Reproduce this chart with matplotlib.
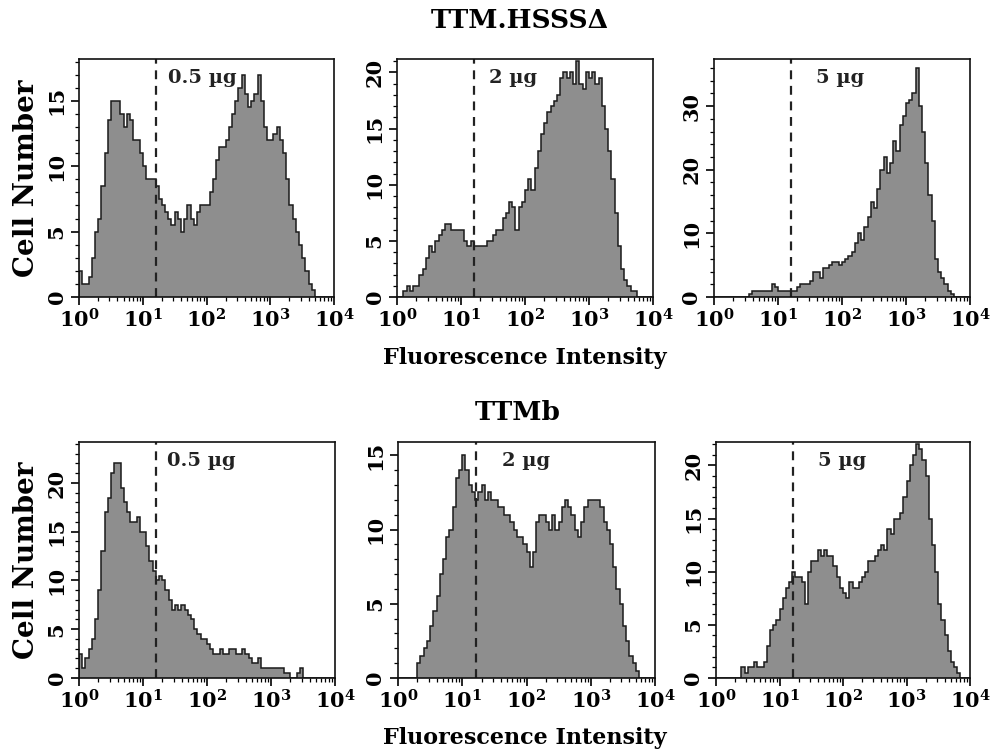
import numpy as np
import matplotlib
matplotlib.use("Agg")
import matplotlib.pyplot as plt
from matplotlib.ticker import MultipleLocator, LogLocator, NullFormatter

plt.rcParams['font.family'] = ['DejaVu Serif']
plt.rcParams['font.weight'] = 'bold'
plt.rcParams['mathtext.fontset'] = 'custom'
plt.rcParams['mathtext.rm'] = 'DejaVu Serif:bold'
plt.rcParams['mathtext.bf'] = 'DejaVu Serif:bold'
plt.rcParams['mathtext.it'] = 'DejaVu Serif:bold'

# histogram bins: 80 channels, 0.05 decade each, 10^0 .. 10^4
n_bins = 80
decades = 4.0

x_tick_values = [1, 10, 100, 1000, 10000]
x_tick_labels = [r'$10^{0}$', r'$10^{1}$', r'$10^{2}$', r'$10^{3}$', r'$10^{4}$']

row_titles = ['TTM.HSSSΔ', 'TTMb']
dose_labels = ['0.5 µg', '2 µg', '5 µg']
gate_position = 16.2

# TTM.HSSSΔ
hsss_05 = [2, 1, 1, 1.5, 3, 5, 6, 8.5, 11, 13.5, 15, 15, 15, 14, 13, 14, 13.5, 12, 12, 11,
           10, 9, 9, 9, 8.5, 7.5, 7, 6.5, 6, 5.5, 6.5, 6, 5, 6, 7, 6, 5.5, 6.5, 7, 7,
           7, 8, 9, 10.5, 11.5, 11.5, 12, 13, 14, 15, 16, 17, 15.5, 14.5, 15, 15.5, 17, 15, 13, 12,
           12, 12.5, 13, 12, 11, 9, 7, 6, 5, 4, 3, 2, 1, 0.5, 0, 0, 0, 0, 0, 0]
hsss_2 = [0, 0, 0.5, 1, 0.5, 1, 1, 2, 2.5, 3.5, 4.5, 4, 5, 5.5, 6, 6.5, 6.5, 6, 6, 6,
          6, 5, 4.5, 5, 4.5, 4.5, 4.5, 4.5, 5, 5, 5.5, 6, 6, 7, 7.5, 8.5, 8, 6, 8, 8.5,
          9.5, 10.5, 9.5, 11.5, 13, 14.5, 15.5, 16.5, 17, 17.5, 18, 19.5, 20, 19.5, 20, 19, 21, 19, 18.5, 20,
          19.5, 20, 19, 19.5, 17, 15, 13, 10.5, 7.5, 4.5, 2.5, 1.5, 1, 0.5, 0.5, 0, 0, 0, 0, 0]
hsss_5 = [0, 0, 0, 0, 0, 0, 0, 0, 0, 0, 0, 0.5, 1, 1, 1, 1, 1, 1, 2, 1.5,
          1, 1, 1, 1, 1, 1, 1.5, 2, 2, 2, 2.5, 4, 4, 3, 4.5, 4.5, 5, 5.5, 5.5, 5,
          5.5, 6, 6.5, 7, 8.5, 10, 9, 11, 12.5, 15, 14, 17, 20, 22, 19.5, 21, 24.5, 23, 27, 28.5,
          30.5, 31, 32, 36, 30, 26, 21, 16, 12, 6, 4, 3, 2, 1, 0.5, 0, 0, 0, 0, 0]

# TTMb
ttmb_05 = [2.5, 1, 2, 3, 4, 6, 9, 13, 17, 18.5, 21, 22, 22, 19.5, 18, 17, 16, 16, 16.5, 15,
           15, 13.5, 12, 11, 10, 10.5, 10, 9, 8, 7, 7.5, 7, 7.5, 7, 6.5, 6, 5, 4.5, 4, 4,
           3.5, 3, 2.5, 2.5, 3, 2.5, 2.5, 3, 3, 2.5, 2.5, 3, 2.5, 2, 1.5, 1.5, 2, 1, 1, 1,
           1, 1, 1, 1, 0.5, 0.5, 0, 0, 0.5, 1, 0, 0, 0, 0, 0, 0, 0, 0, 0, 0]
ttmb_2 = [0, 0, 0, 0, 0, 0, 1, 1.5, 2, 2.5, 3.5, 4.5, 5.5, 7, 8, 9.5, 10, 11.5, 13.5, 14,
          15, 14, 13, 12.5, 12, 12.5, 13, 12, 12.5, 12, 12, 11.5, 11.5, 11, 11, 10.5, 10, 9.5, 9.5, 9,
          8.5, 7.5, 8.5, 10.5, 11, 11, 10.5, 10, 11, 10, 10.5, 11.5, 12, 11.5, 11, 10, 9.5, 10.5, 11.5, 12,
          12, 12, 12, 11.5, 10.5, 10, 9, 7.5, 6, 5, 3.5, 2.5, 1.5, 1, 0.5, 0, 0, 0, 0, 0]
ttmb_5 = [0, 0, 0, 0, 0, 0, 0, 0, 1, 0.5, 1, 1, 1.5, 1, 1, 1.5, 3, 4.5, 5, 5.5,
          6.5, 7.5, 8.5, 9, 10, 9.5, 9.5, 9, 7, 10, 11, 11, 12, 11.5, 12, 11.5, 11.5, 10.5, 9.5, 8.5,
          8, 7.5, 9, 8.5, 8.5, 9, 9.5, 10, 11, 11, 11.5, 12, 12.5, 12, 14, 13.5, 15, 15, 15.5, 17,
          18.5, 20, 21, 22, 21.5, 20.5, 19, 15, 12.5, 10, 7, 5.5, 4, 2.5, 1.5, 1, 0.5, 0, 0, 0]

series = [[hsss_05, hsss_2, hsss_5], [ttmb_05, ttmb_2, ttmb_5]]
y_limits = [[18.2, 21.2, 37.4], [24.2, 15.9, 22.2]]
y_major = [[5, 5, 10], [5, 5, 5]]
y_minor = [[1, 1, 2], [1, 1, 1]]
label_x = [[0.35, 0.36, 0.40], [0.345, 0.405, 0.40]]

edges = 10 ** (np.arange(n_bins + 1) * decades / n_bins)

W, H = 991, 754
fig = plt.figure(figsize=(W / 100, H / 100), dpi=100)

col_left = [[79, 397, 714], [79, 398, 716]]
col_width = [[255, 256, 256], [256, 257, 254]]
row_top = [59, 442]
row_bottom = [297, 678]

fill_color = '#8e8e8e'
line_color = '#1a1a1a'

for r in range(2):
    for c in range(3):
        l = col_left[r][c]
        w = col_width[r][c]
        t = row_top[r]
        b = row_bottom[r]
        ax = fig.add_axes([l / W, 1 - b / H, w / W, (b - t) / H])
        vals = np.asarray(series[r][c], dtype=float)
        ax.stairs(vals, edges, fill=True, color=fill_color, linewidth=0)
        ax.stairs(vals, edges, color=line_color, linewidth=1.1)
        ax.set_xscale('log')
        ax.set_xlim(1, 10000)
        ax.set_ylim(0, y_limits[r][c])
        ax.axvline(gate_position, color='#222222', linestyle=(0, (4, 3)), linewidth=1.6)
        ax.set_xticks(x_tick_values)
        ax.set_xticklabels(x_tick_labels, fontsize=15)
        ax.xaxis.set_minor_locator(LogLocator(base=10, subs=np.arange(2, 10)))
        ax.xaxis.set_minor_formatter(NullFormatter())
        ax.yaxis.set_major_locator(MultipleLocator(y_major[r][c]))
        ax.yaxis.set_minor_locator(MultipleLocator(y_minor[r][c]))
        ax.tick_params(axis='both', which='major', direction='out', length=6, width=1.2, pad=2)
        ax.tick_params(axis='both', which='minor', direction='out', length=3, width=0.9)
        ax.tick_params(axis='y', labelsize=15, pad=3)
        for lab in ax.get_yticklabels():
            lab.set_rotation(90)
            lab.set_va('center')
            lab.set_ha('right')
            lab.set_fontweight('bold')
        for sp in ax.spines.values():
            sp.set_linewidth(1.2)
            sp.set_color('#111111')
        ax.text(label_x[r][c], 0.92, dose_labels[c], transform=ax.transAxes,
                ha='left', va='center', fontsize=14, fontweight='bold', color='#222222')
        if c == 0:
            ax.set_ylabel('Cell Number', fontsize=20, fontweight='bold', labelpad=5)

fig.text(520 / W, 1 - 20 / H, row_titles[0], ha='center', va='center', fontsize=19, fontweight='bold')
fig.text(525 / W, 1 - 358 / H, 'Fluorescence Intensity', ha='center', va='center', fontsize=16, fontweight='bold')
fig.text(518 / W, 1 - 412 / H, row_titles[1], ha='center', va='center', fontsize=19, fontweight='bold')
fig.text(525 / W, 1 - 738 / H, 'Fluorescence Intensity', ha='center', va='center', fontsize=16, fontweight='bold')

fig.savefig('out.png', dpi=100, facecolor='white')
